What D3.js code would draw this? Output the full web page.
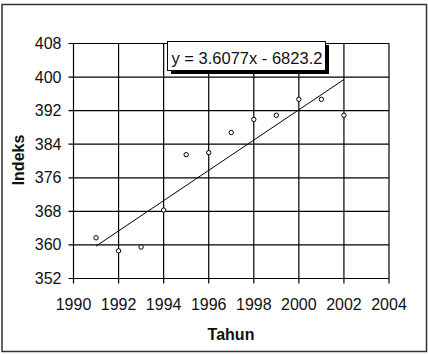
<!DOCTYPE html>
<html>
<head>
<meta charset="utf-8">
<script src="https://cdn.jsdelivr.net/npm/d3@7"></script>
<style>
html,body{margin:0;padding:0;background:#fff;}
svg{display:block;font-family:"Liberation Sans",Arial,sans-serif;}
</style>
</head>
<body>
<svg id="chart" width="428" height="354"></svg>
<script>
const years = [1991,1992,1993,1994,1995,1996,1997,1998,1999,2000,2001,2002];
const indeks = [361.7,358.6,359.5,368.3,381.5,382.0,386.8,389.9,390.9,394.7,394.7,390.9];
const xTicks = [1990,1992,1994,1996,1998,2000,2002,2004];
const yTicks = [352,360,368,376,384,392,400,408];
const trendSlope = 3.6077;
const trendIntercept = -6823.2;
const equationLabel = "y = 3.6077x - 6823.2";
const xTitle = "Tahun";
const yTitle = "Indeks";

const svg = d3.select("#chart");
const x = d3.scaleLinear().domain([1990,2004]).range([73.5,389]);
const y = d3.scaleLinear().domain([352,408]).range([278.5,43.5]);

// outer frame
svg.append("rect").attr("x",2).attr("y",4.5).attr("width",424.5).attr("height",347)
  .attr("fill","#fff").attr("stroke","#333").attr("stroke-width",1.5);

// gridlines
const g = svg.append("g");
g.selectAll("line.h").data(yTicks).join("line")
  .attr("x1",x(1990)-5).attr("x2",x(2004))
  .attr("y1",d=>y(d)).attr("y2",d=>y(d))
  .attr("stroke","#000").attr("stroke-width",1.2);
g.selectAll("line.v").data(xTicks).join("line")
  .attr("x1",d=>x(d)).attr("x2",d=>x(d))
  .attr("y1",y(408)).attr("y2",y(352)+5)
  .attr("stroke","#000").attr("stroke-width",1.2);

// tick labels
svg.append("g").selectAll("text").data(yTicks).join("text")
  .attr("x",x(1990)-12).attr("y",d=>y(d)+5.5)
  .attr("text-anchor","end").attr("font-size",16).attr("fill","#111")
  .text(d=>d);
svg.append("g").selectAll("text").data(xTicks).join("text")
  .attr("x",d=>x(d)).attr("y",310)
  .attr("text-anchor","middle").attr("font-size",16).attr("fill","#111")
  .text(d=>d);

// axis titles
svg.append("text").attr("x",231).attr("y",340).attr("text-anchor","middle")
  .attr("font-size",16).attr("font-weight","bold").attr("fill","#111").text(xTitle);
svg.append("text").attr("transform","translate(24,160) rotate(-90)").attr("text-anchor","middle")
  .attr("font-size",16).attr("font-weight","bold").attr("fill","#111").text(yTitle);

// trend line
const x0 = d3.min(years), x1 = d3.max(years);
svg.append("line")
  .attr("x1",x(x0)).attr("y1",y(trendSlope*x0+trendIntercept))
  .attr("x2",x(x1)).attr("y2",y(trendSlope*x1+trendIntercept))
  .attr("stroke","#000").attr("stroke-width",1);

// points
svg.append("g").selectAll("circle").data(years.map((d,i)=>[d,indeks[i]])).join("circle")
  .attr("cx",d=>x(d[0])).attr("cy",d=>y(d[1])).attr("r",2.2)
  .attr("fill","#fff").attr("stroke","#000").attr("stroke-width",1);

// equation label with shadow
svg.append("rect").attr("x",171).attr("y",45).attr("width",158).attr("height",29).attr("fill","#000");
svg.append("rect").attr("x",167.5).attr("y",41.5).attr("width",158).attr("height",29)
  .attr("fill","#fff").attr("stroke","#000").attr("stroke-width",1);
svg.append("text").attr("x",171.5).attr("y",64.3).attr("font-size",16.5).attr("fill","#111")
  .text(equationLabel);
</script>
</body>
</html>
